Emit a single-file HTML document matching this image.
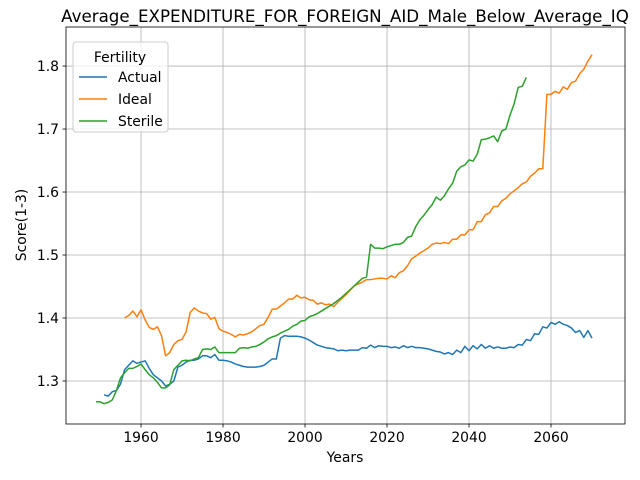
<!DOCTYPE html>
<html><head><meta charset="utf-8"><style>body{margin:0;background:#fff}svg{display:block;font-family:"DejaVu Sans","Liberation Sans",sans-serif}</style></head>
<body>
<svg id="chart" width="640" height="480" viewBox="0 0 640 480" xmlns="http://www.w3.org/2000/svg"></svg>
<script>
const xTicks=[1960,1980,2000,2020,2040,2060];
const yTicks=[1.3,1.4,1.5,1.6,1.7,1.8];
const actualStart=1951;
const actualValues=[1.278,1.276,1.283,1.285,1.295,1.318,1.325,1.332,1.328,1.330,1.332,1.320,1.310,1.305,1.300,1.292,1.295,1.300,1.322,1.325,1.330,1.333,1.333,1.335,1.340,1.340,1.337,1.342,1.333,1.333,1.332,1.330,1.327,1.325,1.323,1.322,1.322,1.322,1.323,1.325,1.330,1.335,1.335,1.368,1.372,1.371,1.371,1.371,1.370,1.368,1.365,1.361,1.357,1.355,1.353,1.352,1.351,1.348,1.349,1.348,1.349,1.349,1.349,1.353,1.352,1.357,1.353,1.356,1.355,1.355,1.353,1.354,1.352,1.356,1.353,1.355,1.353,1.353,1.352,1.351,1.349,1.347,1.346,1.343,1.345,1.342,1.349,1.345,1.355,1.348,1.356,1.351,1.358,1.352,1.356,1.352,1.354,1.352,1.352,1.354,1.353,1.358,1.357,1.366,1.364,1.375,1.374,1.386,1.384,1.393,1.390,1.394,1.390,1.388,1.384,1.377,1.380,1.369,1.380,1.368];
const idealStart=1956;
const idealValues=[1.400,1.404,1.411,1.402,1.413,1.397,1.385,1.382,1.386,1.372,1.340,1.345,1.358,1.364,1.366,1.378,1.409,1.416,1.411,1.408,1.407,1.398,1.401,1.383,1.379,1.377,1.374,1.370,1.374,1.373,1.375,1.378,1.383,1.388,1.390,1.401,1.414,1.414,1.419,1.424,1.430,1.430,1.436,1.432,1.433,1.429,1.428,1.422,1.424,1.421,1.422,1.418,1.425,1.431,1.437,1.444,1.451,1.454,1.457,1.461,1.461,1.462,1.463,1.463,1.462,1.467,1.464,1.472,1.475,1.483,1.494,1.498,1.503,1.507,1.511,1.517,1.519,1.518,1.520,1.518,1.525,1.525,1.532,1.532,1.540,1.540,1.553,1.553,1.564,1.567,1.577,1.577,1.586,1.590,1.597,1.602,1.607,1.613,1.616,1.625,1.630,1.637,1.637,1.755,1.755,1.760,1.757,1.767,1.763,1.774,1.776,1.788,1.795,1.808,1.818];
const sterileStart=1949;
const sterileValues=[1.267,1.267,1.264,1.266,1.270,1.285,1.305,1.313,1.320,1.320,1.323,1.327,1.318,1.310,1.305,1.298,1.289,1.289,1.294,1.318,1.325,1.332,1.333,1.332,1.335,1.337,1.350,1.351,1.350,1.354,1.345,1.345,1.345,1.345,1.345,1.352,1.353,1.352,1.354,1.355,1.358,1.362,1.367,1.370,1.372,1.376,1.379,1.382,1.387,1.390,1.395,1.396,1.402,1.404,1.407,1.411,1.415,1.419,1.423,1.428,1.433,1.439,1.445,1.451,1.457,1.463,1.465,1.517,1.511,1.511,1.510,1.513,1.515,1.517,1.517,1.520,1.528,1.530,1.545,1.556,1.563,1.572,1.580,1.592,1.587,1.594,1.605,1.614,1.633,1.640,1.643,1.651,1.649,1.660,1.683,1.684,1.686,1.689,1.680,1.697,1.700,1.722,1.740,1.766,1.768,1.782];

const L=66,R=625,T=27,B=424;
const xMin=1941.7,xMax=2078.05,yMin=1.2317,yMax=1.862;
const sx=v=>L+(v-xMin)/(xMax-xMin)*(R-L);
const sy=v=>B-(v-yMin)/(yMax-yMin)*(B-T);
const svg=document.getElementById('chart');
const NS='http://www.w3.org/2000/svg';
function el(tag,attrs,parent){const e=document.createElementNS(NS,tag);for(const k in attrs)e.setAttribute(k,attrs[k]);(parent||svg).appendChild(e);return e;}

const grid=el('g',{});


xTicks.forEach(t=>{const x=sx(t);
 el('line',{x1:x,x2:x,y1:T,y2:B,stroke:'#b0b0b0','stroke-width':0.8},grid);
 el('line',{x1:x,x2:x,y1:B,y2:B+3.5,stroke:'#000','stroke-width':0.8});
 const tx=el('text',{x:x,y:B+18,'text-anchor':'middle','font-size':13.9});tx.textContent=t;
 
 
});
yTicks.forEach(t=>{const y=sy(t);
 el('line',{x1:L,x2:R,y1:y,y2:y,stroke:'#b0b0b0','stroke-width':0.8},grid);
 el('line',{x1:L-3.5,x2:L,y1:y,y2:y,stroke:'#000','stroke-width':0.8});
 const tx=el('text',{x:L-7,y:y+5,'text-anchor':'end','font-size':13.9});tx.textContent=t.toFixed(1);
 
 
});
function series(start,vals,color,name){
 const pts=vals.map((v,i)=>sx(start+i).toFixed(2)+','+sy(v).toFixed(2)).join(' ');
 const p=el('polyline',{points:pts,fill:'none',stroke:color,'stroke-width':1.5,'stroke-linejoin':'round'});
 
 
}
series(actualStart,actualValues,'#1f77b4','actual-line');
series(idealStart,idealValues,'#ff7f0e','ideal-line');
series(sterileStart,sterileValues,'#2ca02c','sterile-line');
const frame=el('rect',{x:L,y:T,width:R-L,height:B-T,fill:'none',stroke:'#000','stroke-width':0.8});


</script>
<svg style="position:absolute;left:0;top:0" width="640" height="480">
 <text x="345" y="22" text-anchor="middle" font-size="16.7" font-family="DejaVu Sans, Liberation Sans, sans-serif">Average_EXPENDITURE_FOR_FOREIGN_AID_Male_Below_Average_IQ</text>
 <text x="345" y="462" text-anchor="middle" font-size="13.9" font-family="DejaVu Sans, Liberation Sans, sans-serif">Years</text>
 <text x="0" y="0" transform="translate(26,225) rotate(-90)" text-anchor="middle" font-size="13.9" font-family="DejaVu Sans, Liberation Sans, sans-serif">Score(1-3)</text>
 <g font-family="DejaVu Sans, Liberation Sans, sans-serif" font-size="13.9">
  <rect x="73" y="42" width="95" height="90" rx="3" fill="#fff" fill-opacity="0.8" stroke="#ccc"/>
  <text x="120" y="62" text-anchor="middle">Fertility</text>
  <line x1="79" x2="107" y1="77" y2="77" stroke="#1f77b4" stroke-width="1.5"/>
  <text x="118" y="82">Actual</text>
  <line x1="79" x2="107" y1="99" y2="99" stroke="#ff7f0e" stroke-width="1.5"/>
  <text x="118" y="104">Ideal</text>
  <line x1="79" x2="107" y1="121" y2="121" stroke="#2ca02c" stroke-width="1.5"/>
  <text x="118" y="126">Sterile</text>
 </g>
</svg>
</body></html>
